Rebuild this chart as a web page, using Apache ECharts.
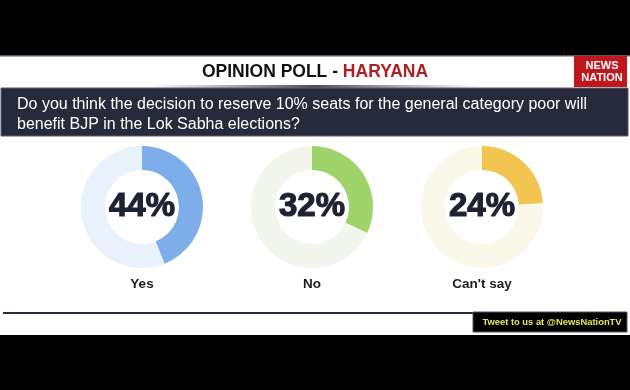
<!DOCTYPE html>
<html>
<head>
<meta charset="utf-8">
<script src="https://cdn.jsdelivr.net/npm/echarts@6/dist/echarts.min.js"></script>
<style>
html,body{margin:0;padding:0;background:#000;}
#c{width:630px;height:390px;}
</style>
</head>
<body>
<div id="c"></div>
<script>
const categories = ['Yes', 'No', "Can't say"];
const values = [44, 32, 24];
const titleMain = 'OPINION POLL - ';
const titleState = 'HARYANA';
const question = ['Do you think the decision to reserve 10% seats for the general category poor will', 'benefit BJP in the Lok Sabha elections?'];
const footerText = 'Tweet to us at @NewsNationTV';

const mainColors = ['#7eaee9', '#9fd46a', '#f2c450'];
const restColors = ['#e9f2fc', '#f2f6ec', '#faf8e8'];
const centersX = [142, 312, 482];
const centerY = 207;

const chart = echarts.init(document.getElementById('c'), null, {renderer: 'canvas'});

const series = values.map((v, i) => ({
  type: 'pie',
  center: [centersX[i], centerY],
  radius: [37, 61],
  startAngle: 90,
  clockwise: true,
  silent: true,
  animation: false,
  labelLine: {show: false},
  emphasis: {disabled: true},
  data: [
    {value: v, name: categories[i], itemStyle: {color: mainColors[i]},
     label: {show: true, position: 'center', formatter: v + '%',
             fontFamily: 'Liberation Sans, Arial', fontWeight: 'bold', fontSize: 33, color: '#1f2233',
             textBorderColor: '#1f2233', textBorderWidth: 1.2}},
    {value: 100 - v, name: 'rest', itemStyle: {color: restColors[i]}, label: {show: false}}
  ]
}));

const graphic = [
  {type: 'rect', shape: {x: 0, y: 0, width: 630, height: 390}, style: {fill: '#000'}, z: -10},
  {type: 'rect', shape: {x: 0, y: 55, width: 630, height: 280}, style: {fill: '#ffffff'}, z: -9},
  {type: 'rect', shape: {x: 0, y: 55, width: 630, height: 1.5}, style: {fill: '#55576a'}, z: -8},
  {type: 'rect', shape: {x: 150, y: 85, width: 330, height: 3},
   style: {fill: new echarts.graphic.LinearGradient(0, 0, 1, 0, [
     {offset: 0, color: 'rgba(80,80,80,0)'}, {offset: 0.5, color: 'rgba(60,60,60,0.9)'}, {offset: 1, color: 'rgba(80,80,80,0)'}])}, z: -8},
  {type: 'rect', shape: {x: 1, y: 88, width: 627, height: 48}, style: {fill: '#272a3b', stroke: '#5a5c6c', lineWidth: 1}, z: -8},
  {type: 'text', x: 315, y: 72,
   style: {text: '{a|' + titleMain + '}{b|' + titleState + '}', align: 'center', verticalAlign: 'middle',
     rich: {a: {fontFamily: 'Liberation Sans, Arial', fontWeight: 'bold', fontSize: 17.5, fill: '#111111'},
            b: {fontFamily: 'Liberation Sans, Arial', fontWeight: 'bold', fontSize: 17.5, fill: '#b01e23'}}}},
  {type: 'rect', shape: {x: 574, y: 56, width: 53, height: 31}, style: {fill: '#c0171d'}},
  {type: 'text', x: 602, y: 71.5,
   style: {text: 'NEWS\nNATION', align: 'center', verticalAlign: 'middle', lineHeight: 12,
     fontFamily: 'Liberation Sans, Arial', fontWeight: 'bold', fontSize: 11, fill: '#ffffff'}},
  {type: 'text', x: 17, y: 104, scaleY: 1.08, style: {text: question[0], verticalAlign: 'middle',
     fontFamily: 'Liberation Sans, Arial', fontSize: 16, fill: '#ffffff'}},
  {type: 'text', x: 17, y: 124, scaleY: 1.08, style: {text: question[1], verticalAlign: 'middle',
     fontFamily: 'Liberation Sans, Arial', fontSize: 16, fill: '#ffffff'}},
  {type: 'rect', shape: {x: 3, y: 312, width: 472, height: 2}, style: {fill: '#2a2d3e'}},
  {type: 'rect', shape: {x: 473, y: 312, width: 154, height: 20}, style: {fill: '#000000', stroke: '#555', lineWidth: 1}},
  {type: 'text', x: 552, y: 322.5, style: {text: footerText, align: 'center', verticalAlign: 'middle',
     fontFamily: 'Liberation Sans, Arial', fontWeight: 'bold', fontSize: 9.4, fill: '#e4e65a'}}
];

categories.forEach((c, i) => {
  graphic.push({type: 'text', x: centersX[i], y: 284,
    style: {text: c, align: 'center', verticalAlign: 'middle',
      fontFamily: 'Liberation Sans, Arial', fontWeight: 'bold', fontSize: 13.5, fill: '#1c1c1c'}});
});

chart.setOption({
  animation: false,
  backgroundColor: '#000',
  graphic: {elements: graphic},
  series: series
});
</script>
</body>
</html>
